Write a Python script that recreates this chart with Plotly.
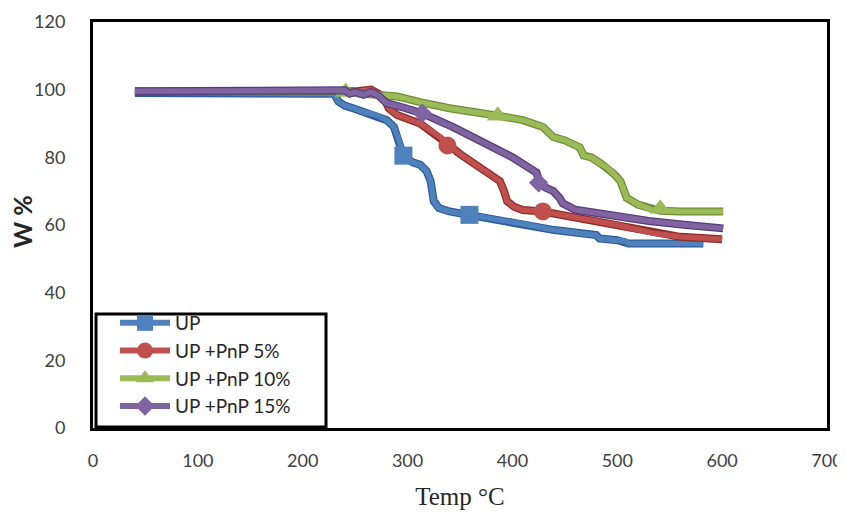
import plotly.graph_objects as go

# ---- data ----
series_names = ["UP", "UP +PnP 5%", "UP +PnP 10%", "UP +PnP 15%"]

up_x = [40, 100, 200, 230, 234, 240, 250, 258, 270, 280, 287, 292, 296, 305, 312, 318, 322, 325, 330, 340, 359, 380, 407, 440, 480, 483, 500, 508, 511, 540, 582]
up_y = [99, 99, 99, 98.8, 96.5, 95.3, 94.3, 93.4, 92.5, 91, 89, 85, 80.5, 78.5, 77.8, 76, 73, 67, 65, 64, 63, 62, 60.5, 58.5, 57, 56, 55.5, 55.2, 54.5, 54.5, 54.5]

p5_x = [40, 100, 200, 250, 265, 277, 282, 290, 312, 331, 338, 350, 369, 388, 392, 395, 402, 410, 429, 450, 471, 500, 534, 560, 600]
p5_y = [99.3, 99.3, 99.3, 99.5, 100, 98, 94.5, 92.5, 90, 86, 84, 81, 77, 73, 70, 67, 65.3, 64.4, 64, 62.8, 61.5, 60, 57.6, 56.5, 55.8]

p10_x = [40, 100, 200, 236, 241, 250, 270, 290, 312, 340, 386, 410, 429, 439, 450, 464, 468, 475, 485, 490, 497, 503, 509, 520, 534, 541, 560, 601]
p10_y = [99.5, 99.5, 99.5, 99.8, 99.3, 99, 98.5, 98, 96.3, 94.5, 92.3, 91, 89, 86, 85, 83, 80.5, 80, 78, 77, 75, 73, 68, 66, 64.4, 64.2, 64, 64]

p15_x = [40, 100, 200, 236, 240, 245, 250, 258, 265, 272, 280, 295, 314, 343, 380, 400, 423, 426, 432, 439, 445, 448, 460, 502, 530, 566, 601]
p15_y = [99.5, 99.5, 99.5, 99.5, 99.8, 98.8, 99.3, 98.5, 99.3, 98.3, 96, 94.8, 93, 89, 83, 80, 75.5, 72.5, 71, 70, 68, 66.4, 64.5, 62.4, 61.2, 60, 59]

# marker positions (as drawn on each curve)
up_mx = [296, 359]
up_my = [80.5, 63]
p5_mx = [338, 429]
p5_my = [83.5, 64]
p10_mx = [241, 386, 541]
p10_my = [99.3, 92.3, 64.8]
p15_mx = [314, 425]
p15_my = [93, 72.5]

x_ticks = [0, 100, 200, 300, 400, 500, 600, 700]
y_ticks = [0, 20, 40, 60, 80, 100, 120]

# ---- styling ----
colors = ["#4F81BD", "#C0504D", "#9BBB59", "#8064A2"]
edges = ["#2A5B98", "#8E2B28", "#6F8D35", "#553D7A"]
symbols = ["square", "circle", "triangle-up", "diamond"]
msizes = [18, 18, 19, 15]

data = [
    (up_x, up_y, up_mx, up_my),
    (p5_x, p5_y, p5_mx, p5_my),
    (p10_x, p10_y, p10_mx, p10_my),
    (p15_x, p15_y, p15_mx, p15_my),
]

fig = go.Figure()
for i, (xs, ys, mx, my) in enumerate(data):
    fig.add_trace(go.Scatter(x=xs, y=ys, mode="lines", showlegend=False,
                             line=dict(color=edges[i], width=8), hoverinfo="skip"))
    fig.add_trace(go.Scatter(x=xs, y=ys, mode="lines", showlegend=False,
                             line=dict(color=colors[i], width=5.5)))
    fig.add_trace(go.Scatter(x=mx, y=my, mode="markers", showlegend=False,
                             marker=dict(symbol=symbols[i], size=msizes[i], color=colors[i],
                                         line=dict(width=0))))
    fig.add_trace(go.Scatter(x=[None], y=[None], mode="lines+markers", name=series_names[i],
                             line=dict(color=colors[i], width=6),
                             marker=dict(symbol=symbols[i], size=min(msizes[i], 16), color=colors[i],
                                         line=dict(width=0))))

# plot area in window px: x 93..827, y 22..428 (page body has an 8px margin)
PL, PR, PT, PB = 93, 827, 22, 428
PW, PH = PR - PL, PB - PT

def fx(px):
    return (px - PL) / PW

def fy(py):
    return (PB - py) / PH

fig.update_layout(
    width=837, height=505,
    margin=dict(l=85, r=18, t=14, b=85),
    paper_bgcolor="white", plot_bgcolor="white",
    font=dict(family="Lato, Open Sans, sans-serif", size=18, color="#404040"),
    showlegend=True,
    legend=dict(x=fx(115), y=fy(304), xanchor="left", yanchor="top",
                bgcolor="rgba(0,0,0,0)", borderwidth=0,
                font=dict(family="Lato, sans-serif", size=19, color="#262626"),
                traceorder="normal", itemwidth=50),
    shapes=[dict(type="rect", xref="paper", yref="paper", layer="below",
                 x0=fx(96), x1=fx(326), y0=fy(427), y1=fy(314),
                 line=dict(color="black", width=3), fillcolor="white")],
    annotations=[dict(text="<b>W %</b>", xref="paper", yref="paper",
                      x=fx(22), y=fy(222), xanchor="center", yanchor="middle",
                      textangle=-90, showarrow=False,
                      font=dict(family="Lato, sans-serif", size=25, color="#262626"))],
)
fig.update_xaxes(range=[0, 700], tickvals=x_ticks, showgrid=False, zeroline=False,
                 showline=True, mirror=True, linecolor="black", linewidth=3,
                 ticks="", ticklabelstandoff=14, automargin=False,
                 title=dict(text="Temp °C", font=dict(family="Liberation Serif, serif", size=25, color="#262626"),
                            standoff=18))
fig.update_yaxes(range=[0, 120], tickvals=y_ticks, showgrid=False, zeroline=False,
                 showline=True, mirror=True, linecolor="black", linewidth=3,
                 ticks="", ticklabelstandoff=21, automargin=False)

fig.write_html("out.html")
